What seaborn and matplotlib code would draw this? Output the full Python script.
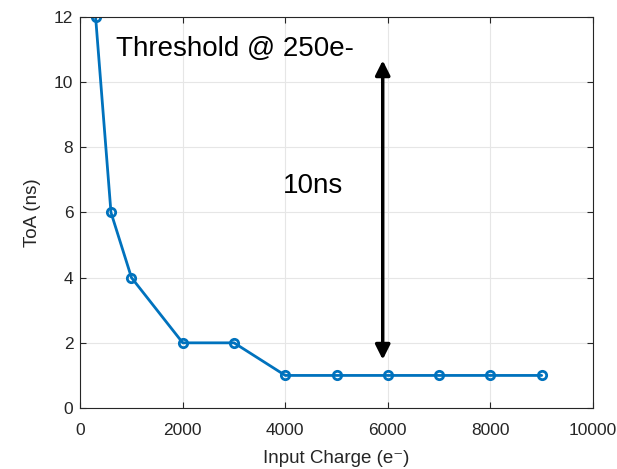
import matplotlib
matplotlib.use("Agg")
import matplotlib.pyplot as plt
import seaborn as sns
import pandas as pd

charge = [300, 600, 1000, 2000, 3000, 4000, 5000, 6000, 7000, 8000, 9000]
toa = [12, 6, 4, 2, 2, 1, 1, 1, 1, 1, 1]
xticks = [0, 2000, 4000, 6000, 8000, 10000]
yticks = [0, 2, 4, 6, 8, 10, 12]

sns.set_theme(style="whitegrid")
plt.rcParams['font.family'] = ['Liberation Sans', 'DejaVu Sans']

df = pd.DataFrame({"charge": charge, "toa": toa})
fig = plt.figure(figsize=(6.17, 4.69), dpi=100)
ax = fig.add_axes([0.130, 0.130, 0.831, 0.834])
sns.lineplot(data=df, x="charge", y="toa", ax=ax, color="#0072BD", linewidth=2,
             marker="o", markersize=6, markerfacecolor="none",
             markeredgecolor="#0072BD", markeredgewidth=2)
ax.set_xlim(0, 10000)
ax.set_ylim(0, 12)
ax.set_xticks(xticks)
ax.set_yticks(yticks)
ax.set_xlabel("Input Charge (e\u207b)", fontsize=13.5, color="#262626", labelpad=9)
ax.set_ylabel("ToA (ns)", fontsize=13.5, color="#262626", labelpad=9)
ax.tick_params(axis="both", labelsize=12.5, colors="#262626", direction="in", length=4, width=0.8,
               top=True, right=True, bottom=True, left=True, pad=5)
ax.tick_params(axis="x", pad=10.5)
ax.grid(True, color="#e6e6e6", linewidth=0.8)
ax.set_facecolor("white")
for s in ax.spines.values():
    s.set_visible(True)
    s.set_color("#262626")
    s.set_linewidth(0.8)

ax.annotate("", xy=(5900, 10.75), xytext=(5900, 1.4),
            arrowprops=dict(arrowstyle="<|-|>", color="black", lw=2.5, mutation_scale=22))
ax.text(700, 11.0, "Threshold @ 250e-", fontsize=20, color="black", va="center", ha="left")
ax.text(3950, 6.8, "10ns", fontsize=20, color="black", va="center", ha="left")

fig.savefig("out.png", dpi=100)
